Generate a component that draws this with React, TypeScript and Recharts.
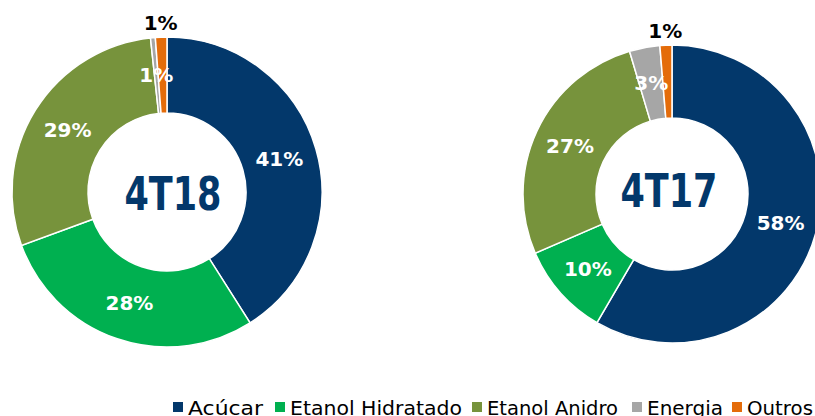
import React from 'react';
import { PieChart, Pie, Cell } from 'recharts';

const categories = ['Acúcar', 'Etanol Hidratado', 'Etanol Anidro', 'Energia', 'Outros'];
const colors = ['#03386B', '#00B050', '#77933C', '#A6A6A6', '#E46C0A'];
const values4T18 = [41.0, 28.4, 28.9, 0.5, 1.2];
const values4T17 = [58.4, 10.1, 26.9, 3.3, 1.3];
const periodLabels = ['4T18', '4T17'];

const data18 = categories.map((name, i) => ({ name, value: values4T18[i] }));
const data17 = categories.map((name, i) => ({ name, value: values4T17[i] }));

const pies = [
  { cx: 167, cy: 192, inner: 79, outer: 155, tdx: 6, tdy: 1 },
  { cx: 672, cy: 194, inner: 76, outer: 149, tdx: -3, tdy: -4 },
];

const RAD = Math.PI / 180;
const FONT = '"DejaVu Sans", "Liberation Sans", sans-serif';

const renderLabel = (props: any) => {
  const { cx, cy, midAngle, innerRadius, outerRadius, index, value } = props;
  const outside = index === categories.length - 1;
  const r = outside ? outerRadius + 14 : (innerRadius + outerRadius) / 2;
  const x = cx + r * Math.cos(-midAngle * RAD);
  const y = cy + r * Math.sin(-midAngle * RAD);
  return (
    <text
      x={x}
      y={y}
      fill={outside ? '#000000' : '#FFFFFF'}
      textAnchor="middle"
      dominantBaseline="central"
      fontFamily={FONT}
      fontWeight="bold"
      fontSize={20}
    >
      {`${Math.round(value)}%`}
    </text>
  );
};

const legendLayout = [
  { x: 173, w: 75 },
  { x: 275, w: 172 },
  { x: 472, w: 131 },
  { x: 632, w: 76 },
  { x: 732, w: 66 },
];

export default function App() {
  const datasets = [data18, data17];
  return (
    <div style={{ position: 'absolute', left: 0, top: 0, width: 815, height: 416, background: '#fff', overflow: 'hidden' }}>
      <PieChart width={815} height={416} margin={{ top: 0, right: 0, bottom: 0, left: 0 }}>
        {datasets.map((data, k) => (
          <Pie
            key={periodLabels[k]}
            data={data}
            dataKey="value"
            cx={pies[k].cx}
            cy={pies[k].cy}
            innerRadius={pies[k].inner}
            outerRadius={pies[k].outer}
            startAngle={90}
            endAngle={-270}
            stroke="#FFFFFF"
            strokeWidth={1.5}
            label={renderLabel}
            labelLine={false}
            isAnimationActive={false}
          >
            {data.map((d, i) => (
              <Cell key={d.name} fill={colors[i]} />
            ))}
          </Pie>
        ))}
      </PieChart>
      <svg width={815} height={416} style={{ position: 'absolute', left: 0, top: 0, pointerEvents: 'none' }}>
        {periodLabels.map((t, k) => (
          <text
            key={t}
            x={pies[k].cx + pies[k].tdx}
            y={pies[k].cy + pies[k].tdy}
            fill="#03386B"
            textAnchor="middle"
            dominantBaseline="central"
            fontFamily='"DejaVu Sans Condensed", "DejaVu Sans", sans-serif'
            fontStretch="condensed"
            fontWeight="bold"
            fontSize={47}
            textLength={97}
            lengthAdjust="spacingAndGlyphs"
          >
            {t}
          </text>
        ))}
        {categories.map((c, i) => (
          <g key={c}>
            <rect x={legendLayout[i].x} y={402} width={10} height={10} fill={colors[i]} />
            <text
              x={legendLayout[i].x + 15}
              y={415}
              fontFamily={FONT}
              fontSize={19}
              fill="#000"
              textLength={legendLayout[i].w}
              lengthAdjust="spacingAndGlyphs"
            >
              {c}
            </text>
          </g>
        ))}
      </svg>
    </div>
  );
}
